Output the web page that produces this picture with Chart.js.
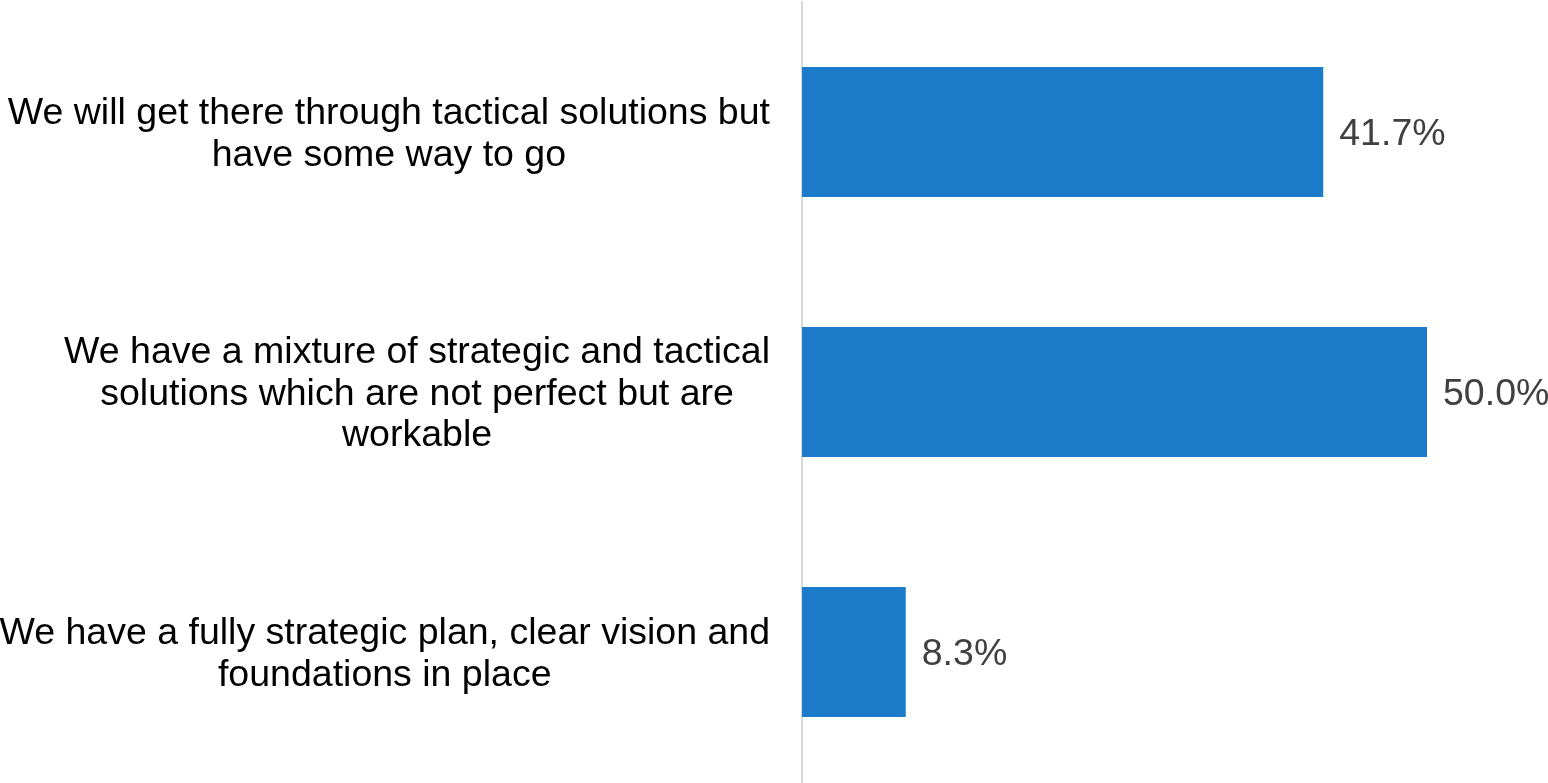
<!DOCTYPE html>
<html>
<head>
<meta charset="utf-8">
<title>Strategy readiness</title>
<script src="https://cdn.jsdelivr.net/npm/chart.js@4/dist/chart.umd.min.js"></script>
<style>
  html, body { margin: 0; padding: 0; background: #ffffff; }
  #wrap { width: 1548px; height: 783px; }
</style>
</head>
<body>
<div id="wrap"><canvas id="chart" width="1548" height="783"></canvas></div>
<script>
// Answer categories, one line per array entry
const categories = [
  ["We will get there through tactical solutions but", "have some way to go"],
  ["We have a mixture of strategic and tactical", "solutions which are not perfect but are", "workable"],
  ["We have a fully strategic plan, clear vision and", "foundations in place"]
];
// Share of respondents (%)
const shares = [41.7, 50.0, 8.3];
const valueLabels = ["41.7%", "50.0%", "8.3%"];

const FONT = '"Liberation Sans", Arial, sans-serif';
const FONT_SIZE = 37.5;
const LINE_H = 41.5;
const CAP_HALF = 12.8; // half the cap height, to centre glyphs on a y position

// Multi-line category labels: each block right-aligned, lines centred within it
const categoryLabels = {
  id: 'categoryLabels',
  afterDraw(chart) {
    const ctx = chart.ctx;
    const yScale = chart.scales.y;
    const right = chart.chartArea.left - 32;
    ctx.save();
    ctx.font = FONT_SIZE + 'px ' + FONT;
    ctx.fillStyle = '#000000';
    ctx.textAlign = 'center';
    ctx.textBaseline = 'alphabetic';
    categories.forEach((lines, i) => {
      const cy = yScale.getPixelForValue(i);
      const w = Math.max(...lines.map(l => ctx.measureText(l).width));
      const cx = right - w / 2;
      const top = cy - (lines.length - 1) * LINE_H / 2;
      lines.forEach((l, j) => ctx.fillText(l, cx, top + j * LINE_H + CAP_HALF));
    });
    ctx.restore();
  }
};

// Value labels placed just past the end of each bar
const valueLabelPlugin = {
  id: 'valueLabels',
  afterDatasetsDraw(chart) {
    const ctx = chart.ctx;
    const meta = chart.getDatasetMeta(0);
    ctx.save();
    ctx.font = FONT_SIZE + 'px ' + FONT;
    ctx.fillStyle = '#404040';
    ctx.textAlign = 'left';
    ctx.textBaseline = 'alphabetic';
    meta.data.forEach((bar, i) => {
      ctx.fillText(valueLabels[i], bar.x + 16, bar.y + CAP_HALF);
    });
    ctx.restore();
  }
};

new Chart(document.getElementById('chart'), {
  type: 'bar',
  data: {
    labels: categories.map(c => c.join(' ')),
    datasets: [{
      data: shares,
      backgroundColor: '#1b7bc9',
      borderWidth: 0,
      categoryPercentage: 1.0,
      barPercentage: 0.5
    }]
  },
  options: {
    indexAxis: 'y',
    responsive: false,
    devicePixelRatio: 1,
    animation: false,
    layout: { padding: { top: 2, bottom: 1, left: 0, right: 121 } },
    plugins: {
      legend: { display: false },
      tooltip: { enabled: false }
    },
    scales: {
      x: {
        display: false,
        min: 0,
        max: 50
      },
      y: {
        display: true,
        ticks: { display: false },
        grid: { display: false, drawTicks: false },
        border: { display: true, color: '#d9d9d9', width: 2 },
        afterFit(scale) { scale.width = 802; }
      }
    }
  },
  plugins: [categoryLabels, valueLabelPlugin]
});
</script>
</body>
</html>
